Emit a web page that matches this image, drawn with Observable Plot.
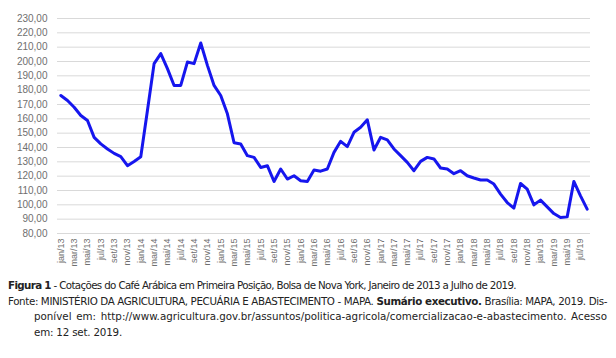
<!DOCTYPE html>
<html><head><meta charset="utf-8">
<script src="https://cdn.jsdelivr.net/npm/d3@7"></script>
<script src="https://cdn.jsdelivr.net/npm/@observablehq/plot@0.6"></script>
<style>
body{margin:0;background:#fff;}
#chart{width:616px;height:278px;}
.cap{font-family:"DejaVu Sans","Liberation Sans",sans-serif;font-size:10.3px;color:#222;line-height:15.6px;margin-left:8px;}
.cap div{white-space:nowrap;}
.cap span{display:inline-block;white-space:nowrap;}
.ind{padding-left:26px;}
</style></head><body>
<div id="chart"></div>
<div class="cap">
<div><span data-w="508" data-mode="letter"><b>Figura 1</b> - Cotações do Café Arábica em Primeira Posição, Bolsa de Nova York, Janeiro de 2013 a Julho de 2019.</span></div>
<div><span data-w="599" data-mode="word">Fonte: MINISTÉRIO DA AGRICULTURA, PECUÁRIA E ABASTECIMENTO - MAPA. <b>Sumário executivo.</b> Brasília: MAPA, 2019. Dis-</span></div>
<div class="ind"><span data-w="573" data-mode="word">ponível em: http://www.agricultura.gov.br/assuntos/politica-agricola/comercializacao-e-abastecimento. Acesso</span></div>
<div class="ind"><span data-w="88" data-mode="letter">em: 12 set. 2019.</span></div>
</div>
<script>
const months = [
"jan/13","fev/13","mar/13","abr/13","mai/13","jun/13","jul/13","ago/13","set/13","out/13","nov/13","dez/13",
"jan/14","fev/14","mar/14","abr/14","mai/14","jun/14","jul/14","ago/14","set/14","out/14","nov/14","dez/14",
"jan/15","fev/15","mar/15","abr/15","mai/15","jun/15","jul/15","ago/15","set/15","out/15","nov/15","dez/15",
"jan/16","fev/16","mar/16","abr/16","mai/16","jun/16","jul/16","ago/16","set/16","out/16","nov/16","dez/16",
"jan/17","fev/17","mar/17","abr/17","mai/17","jun/17","jul/17","ago/17","set/17","out/17","nov/17","dez/17",
"jan/18","fev/18","mar/18","abr/18","mai/18","jun/18","jul/18","ago/18","set/18","out/18","nov/18","dez/18",
"jan/19","fev/19","mar/19","abr/19","mai/19","jun/19","jul/19","ago/19"];
const prices = [
176.3,172.8,168.1,162.3,158.8,147.1,142.5,139.0,135.9,133.6,127.3,130.3,
133.6,165.8,198.5,205.5,195.0,183.3,183.3,199.6,198.5,212.9,197.3,183.3,
176.3,163.5,143.3,142.5,134.3,133.1,126.1,127.3,116.3,125.0,118.0,120.3,
116.8,116.3,124.3,123.5,125.0,136.6,144.3,140.6,150.6,154.1,159.3,138.3,
147.1,145.3,139.0,134.3,129.6,123.8,130.3,133.1,132.0,125.7,125.0,121.7,
123.8,120.3,118.7,117.3,117.3,114.5,107.5,101.6,97.7,114.9,111.0,100.0,
103.3,98.6,93.9,91.1,91.6,116.3,106.3,97.0];
const yTicks = [80,90,100,110,120,130,140,150,160,170,180,190,200,210,220,230];
const xTickLabels = [
"jan/13","mar/13","mai/13","jul/13","set/13","nov/13",
"jan/14","mar/14","mai/14","jul/14","set/14","nov/14",
"jan/15","mar/15","mai/15","jul/15","set/15","nov/15",
"jan/16","mar/16","mai/16","jul/16","set/16","nov/16",
"jan/17","mar/17","mai/17","jul/17","set/17","nov/17",
"jan/18","mar/18","mai/18","jul/18","set/18","nov/18",
"jan/19","mar/19","mai/19","jul/19"];
const data = months.map((m,i)=>({month:m, price:prices[i]}));
const chart = Plot.plot({
  width:616, height:278, marginTop:18, marginBottom:45, marginLeft:57, marginRight:26,
  x:{type:"point", domain:months, padding:0.5, axis:null},
  y:{domain:[80,230], axis:null},
  style:{fontFamily:"'Liberation Sans', Arial, sans-serif", background:"#fff", overflow:"visible"},
  marks:[
    Plot.gridY(yTicks,{stroke:"#d9d9d9", strokeOpacity:1, strokeWidth:1}),
    Plot.axisY(yTicks,{tickSize:0, tickPadding:10, label:null, tickFormat:d=>d.toFixed(2).replace(".",","), fontSize:10, fill:"#6f6f6f"}),
    Plot.axisX(xTickLabels,{tickSize:0, tickRotate:-90, tickPadding:5, label:null, fontSize:9, fill:"#6f6f6f"}),
    Plot.line(data,{x:"month", y:"price", stroke:"#1616ee", strokeWidth:3, strokeLinejoin:"round"})
  ]
});
document.getElementById("chart").appendChild(chart);
// fit caption lines to the reference line widths
document.querySelectorAll(".cap span[data-w]").forEach(el=>{
  const target = +el.dataset.w;
  const w = el.getBoundingClientRect().width;
  const text = el.textContent;
  const spaces = (text.match(/ /g) || []).length;
  if (el.dataset.mode === "word" && w <= target && spaces > 0) {
    el.style.wordSpacing = ((target - w) / spaces) + "px";
  } else {
    el.style.letterSpacing = ((target - w) / text.length) + "px";
  }
});
</script>
</body></html>
